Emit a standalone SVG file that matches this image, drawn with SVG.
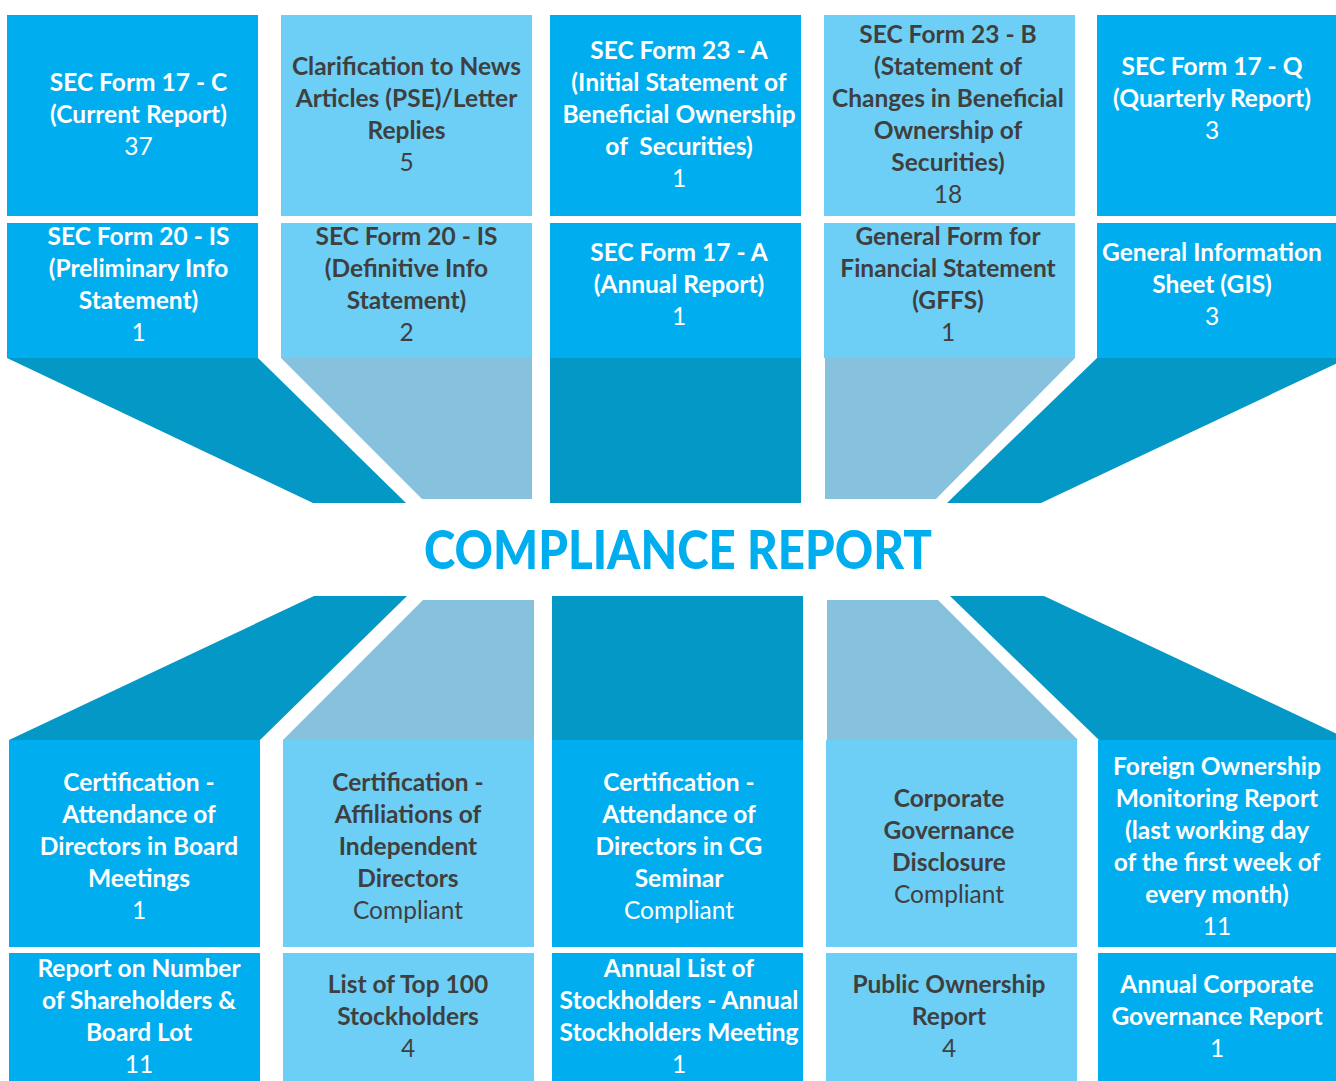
<svg xmlns="http://www.w3.org/2000/svg" width="1336" height="1081" viewBox="0 0 1336 1081">
<style>
.b{fill:#00AEEF}
.l{fill:#6DCFF6}
.d{fill:#0398C5}
.lt{fill:#86C1DD}
text{font-family:Lato,"Liberation Sans",sans-serif;font-size:24.5px;text-anchor:middle}
.w{fill:#FFFFFF}
.k{fill:#3F3F3F}
.h{font-weight:700}
.n{font-weight:400}
.title{font-family:Lato,"Liberation Sans",sans-serif;font-size:54px;font-weight:900;fill:#00AEEF}
</style>
<rect width="1336" height="1081" fill="#FFFFFF"/>
<g id="connectors">
<polygon class="d" points="7,358 258,358 406,503 313,503"/>
<polygon class="lt" points="281,358 532,358 532,499 422,499"/>
<rect class="d" x="550" y="358" width="251" height="145"/>
<polygon class="lt" points="825,358 1075,358 936,499 825,499"/>
<polygon class="d" points="1097,358 1348,358 1041,503 947,503"/>
<polygon class="d" points="314,596 407,596 260,740 9,740"/>
<polygon class="lt" points="423,600 534,600 534,740 283,740"/>
<rect class="d" x="552" y="596" width="251" height="144"/>
<polygon class="lt" points="827,600 938,600 1078,740 827,740"/>
<polygon class="d" points="950,596 1044,596 1350,740 1099,740"/>
</g>
<g id="title"><text class="title" x="678" y="569" textLength="508" lengthAdjust="spacingAndGlyphs">COMPLIANCE REPORT</text></g>

<g id="n-17c"><rect class="b" x="7" y="15" width="251" height="201"/>
<text class="w h" x="138.5" y="91">SEC Form 17 - C</text><text class="w h" x="138.5" y="123">(Current Report)</text><text class="w n" x="138.5" y="155">37</text></g>
<g id="n-clar"><rect class="l" x="281" y="15" width="251" height="201"/>
<text class="k h" x="406.5" y="75">Clarification to News</text><text class="k h" x="406.5" y="107">Articles (PSE)/Letter</text><text class="k h" x="406.5" y="139">Replies</text><text class="k n" x="406.5" y="171">5</text></g>
<g id="n-23a"><rect class="b" x="550" y="15" width="251" height="201"/>
<text class="w h" x="679" y="59">SEC Form 23 - A</text><text class="w h" x="679" y="91">(Initial Statement of</text><text class="w h" x="679" y="123">Beneficial Ownership</text><text class="w h" x="679" y="155" xml:space="preserve">of  Securities)</text><text class="w n" x="679" y="187">1</text></g>
<g id="n-23b"><rect class="l" x="824" y="15" width="251" height="201"/>
<text class="k h" x="948" y="43">SEC Form 23 - B</text><text class="k h" x="948" y="75">(Statement of</text><text class="k h" x="948" y="107">Changes in Beneficial</text><text class="k h" x="948" y="139">Ownership of</text><text class="k h" x="948" y="171">Securities)</text><text class="k n" x="948" y="203">18</text></g>
<g id="n-17q"><rect class="b" x="1097" y="15" width="251" height="201"/>
<text class="w h" x="1212" y="75">SEC Form 17 - Q</text><text class="w h" x="1212" y="107">(Quarterly Report)</text><text class="w n" x="1212" y="139">3</text></g>

<g id="n-20is-p"><rect class="b" x="7" y="223" width="251" height="135"/>
<text class="w h" x="138.5" y="245">SEC Form 20 - IS</text><text class="w h" x="138.5" y="277">(Preliminary Info</text><text class="w h" x="138.5" y="309">Statement)</text><text class="w n" x="138.5" y="341">1</text></g>
<g id="n-20is-d"><rect class="l" x="281" y="223" width="251" height="135"/>
<text class="k h" x="406.5" y="245">SEC Form 20 - IS</text><text class="k h" x="406.5" y="277">(Definitive Info</text><text class="k h" x="406.5" y="309">Statement)</text><text class="k n" x="406.5" y="341">2</text></g>
<g id="n-17a"><rect class="b" x="550" y="223" width="251" height="135"/>
<text class="w h" x="679" y="261">SEC Form 17 - A</text><text class="w h" x="679" y="293">(Annual Report)</text><text class="w n" x="679" y="325">1</text></g>
<g id="n-gffs"><rect class="l" x="824" y="223" width="251" height="135"/>
<text class="k h" x="948" y="245">General Form for</text><text class="k h" x="948" y="277">Financial Statement</text><text class="k h" x="948" y="309">(GFFS)</text><text class="k n" x="948" y="341">1</text></g>
<g id="n-gis"><rect class="b" x="1097" y="223" width="251" height="135"/>
<text class="w h" x="1212" y="261">General Information</text><text class="w h" x="1212" y="293">Sheet (GIS)</text><text class="w n" x="1212" y="325">3</text></g>

<g id="n-cert-board"><rect class="b" x="9" y="740" width="251" height="207"/>
<text class="w h" x="139" y="791">Certification -</text><text class="w h" x="139" y="823">Attendance of</text><text class="w h" x="139" y="855">Directors in Board</text><text class="w h" x="139" y="887">Meetings</text><text class="w n" x="139" y="919">1</text></g>
<g id="n-cert-aff"><rect class="l" x="283" y="740" width="251" height="207"/>
<text class="k h" x="408" y="791">Certification -</text><text class="k h" x="408" y="823">Affiliations of</text><text class="k h" x="408" y="855">Independent</text><text class="k h" x="408" y="887">Directors</text><text class="k n" x="408" y="919">Compliant</text></g>
<g id="n-cert-cg"><rect class="b" x="552" y="740" width="251" height="207"/>
<text class="w h" x="679" y="791">Certification -</text><text class="w h" x="679" y="823">Attendance of</text><text class="w h" x="679" y="855">Directors in CG</text><text class="w h" x="679" y="887">Seminar</text><text class="w n" x="679" y="919">Compliant</text></g>
<g id="n-cgd"><rect class="l" x="826" y="740" width="251" height="207"/>
<text class="k h" x="949" y="807">Corporate</text><text class="k h" x="949" y="839">Governance</text><text class="k h" x="949" y="871">Disclosure</text><text class="k n" x="949" y="903">Compliant</text></g>
<g id="n-fomr"><rect class="b" x="1098" y="740" width="251" height="207"/>
<text class="w h" x="1217" y="775">Foreign Ownership</text><text class="w h" x="1217" y="807">Monitoring Report</text><text class="w h" x="1217" y="839">(last working day</text><text class="w h" x="1217" y="871">of the first week of</text><text class="w h" x="1217" y="903">every month)</text><text class="w n" x="1217" y="935">11</text></g>

<g id="n-shareholders"><rect class="b" x="9" y="953" width="251" height="128"/>
<text class="w h" x="139" y="977">Report on Number</text><text class="w h" x="139" y="1009">of Shareholders &amp;</text><text class="w h" x="139" y="1041">Board Lot</text><text class="w n" x="139" y="1073">11</text></g>
<g id="n-top100"><rect class="l" x="283" y="953" width="251" height="128"/>
<text class="k h" x="408" y="993">List of Top 100</text><text class="k h" x="408" y="1025">Stockholders</text><text class="k n" x="408" y="1057">4</text></g>
<g id="n-annual-list"><rect class="b" x="552" y="953" width="251" height="128"/>
<text class="w h" x="679" y="977">Annual List of</text><text class="w h" x="679" y="1009">Stockholders - Annual</text><text class="w h" x="679" y="1041">Stockholders Meeting</text><text class="w n" x="679" y="1073">1</text></g>
<g id="n-public"><rect class="l" x="826" y="953" width="251" height="128"/>
<text class="k h" x="949" y="993">Public Ownership</text><text class="k h" x="949" y="1025">Report</text><text class="k n" x="949" y="1057">4</text></g>
<g id="n-acgr"><rect class="b" x="1098" y="953" width="251" height="128"/>
<text class="w h" x="1217" y="993">Annual Corporate</text><text class="w h" x="1217" y="1025">Governance Report</text><text class="w n" x="1217" y="1057">1</text></g>
</svg>
